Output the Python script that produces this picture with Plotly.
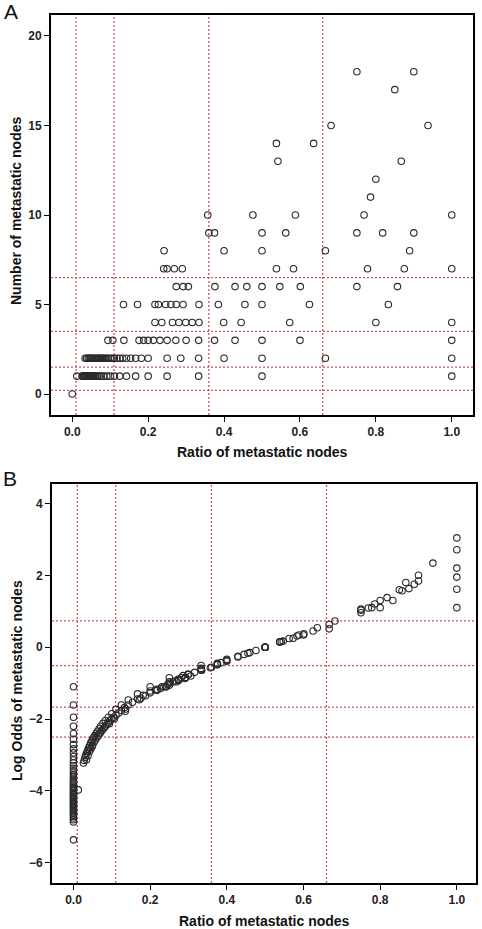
import plotly.graph_objects as go

W, H = 482, 929

# ---------------- Panel A data: ratio vs number of metastatic nodes ----------------
a_ratio_n0 = [0.0]
a_ratio_n1 = [0.012, 0.026, 0.028, 0.030, 0.032, 0.034, 0.036, 0.038, 0.040, 0.042, 0.045,
              0.048, 0.050, 0.053, 0.056, 0.059, 0.0625, 0.067, 0.071, 0.077, 0.083, 0.091,
              0.100, 0.111, 0.125, 0.143, 0.167, 0.200, 0.250, 0.333, 0.500, 1.000]
a_ratio_n2 = [0.034, 0.038, 0.042, 0.045, 0.048, 0.050, 0.054, 0.057, 0.061, 0.065, 0.069,
              0.071, 0.074, 0.077, 0.080, 0.083, 0.087, 0.091, 0.095, 0.100, 0.105, 0.111,
              0.118, 0.125, 0.133, 0.143, 0.154, 0.167, 0.182, 0.200, 0.250, 0.286, 0.333,
              0.400, 0.500, 0.667, 1.000]
a_ratio_n3 = [0.094, 0.107, 0.136, 0.176, 0.188, 0.200, 0.214, 0.231, 0.250, 0.273, 0.300,
              0.333, 0.375, 0.429, 0.500, 0.600, 1.000]
a_ratio_n4 = [0.218, 0.236, 0.264, 0.281, 0.299, 0.316, 0.334, 0.399, 0.445, 0.573, 0.800, 1.000]
a_ratio_n5 = [0.135, 0.172, 0.218, 0.227, 0.246, 0.260, 0.274, 0.292, 0.334, 0.385, 0.455,
              0.500, 0.625, 0.833]
a_ratio_n6 = [0.274, 0.292, 0.306, 0.376, 0.429, 0.460, 0.500, 0.547, 0.601, 0.750, 0.857]
a_ratio_n7 = [0.241, 0.250, 0.269, 0.290, 0.538, 0.583, 0.778, 0.875, 1.000]
a_ratio_n8 = [0.242, 0.400, 0.500, 0.667, 0.889]
a_ratio_n9 = [0.360, 0.375, 0.500, 0.5625, 0.750, 0.818, 0.900]
a_ratio_n10 = [0.357, 0.476, 0.588, 0.769, 1.000]
a_ratio_n11 = [0.786]
a_ratio_n12 = [0.800]
a_ratio_n13 = [0.542, 0.867]
a_ratio_n14 = [0.538, 0.636]
a_ratio_n15 = [0.682, 0.9375]
a_ratio_n17 = [0.850]
a_ratio_n18 = [0.750, 0.900]

a_rows = [(0, a_ratio_n0), (1, a_ratio_n1), (2, a_ratio_n2), (3, a_ratio_n3), (4, a_ratio_n4),
          (5, a_ratio_n5), (6, a_ratio_n6), (7, a_ratio_n7), (8, a_ratio_n8), (9, a_ratio_n9),
          (10, a_ratio_n10), (11, a_ratio_n11), (12, a_ratio_n12), (13, a_ratio_n13),
          (14, a_ratio_n14), (15, a_ratio_n15), (17, a_ratio_n17), (18, a_ratio_n18)]
a_ratio, a_nodes = [], []
for n, rs in a_rows:
    a_ratio += rs
    a_nodes += [n] * len(rs)

a_vlines = [0.01, 0.11, 0.36, 0.66]
a_hlines = [0.2, 1.5, 3.5, 6.5]
a_yticks = [0, 5, 10, 15, 20]

# ---------------- Panel B data: ratio vs log odds ----------------
b_zero_logodds = [-1.10, -1.61, -1.95, -2.20, -2.40, -2.56, -2.71, -2.83, -2.94, -3.04, -3.14,
                  -3.22, -3.30, -3.37, -3.44, -3.50, -3.56, -3.61, -3.67, -3.72, -3.77, -3.81,
                  -3.86, -3.90, -3.93, -3.97, -4.00, -4.05, -4.08, -4.11, -4.15, -4.19, -4.22,
                  -4.26, -4.30, -4.33, -4.36, -4.39, -4.43, -4.47, -4.51, -4.55, -4.58, -4.62,
                  -4.66, -4.70, -4.75, -4.80, -4.86, -5.36]
b_curve_points = [
    (0.0125, -3.97), (0.026, -3.22), (0.028, -3.15), (0.030, -3.07), (0.032, -3.01), (0.034, -2.95),
    (0.036, -2.90), (0.038, -2.84), (0.040, -2.79), (0.042, -2.74), (0.045, -2.66), (0.048, -2.61),
    (0.050, -2.56), (0.053, -2.51), (0.056, -2.46), (0.059, -2.40), (0.0625, -2.34), (0.067, -2.27),
    (0.071, -2.20), (0.077, -2.12), (0.083, -2.04), (0.091, -1.95), (0.100, -1.85), (0.111, -1.73),
    (0.125, -1.61), (0.143, -1.47), (0.167, -1.30), (0.200, -1.10), (0.250, -0.85), (0.333, -0.51),
    (0.500, 0.00), (1.000, 1.10),
    (0.034, -3.13), (0.038, -3.02), (0.042, -2.90), (0.045, -2.83), (0.048, -2.78), (0.050, -2.73),
    (0.054, -2.64), (0.057, -2.58), (0.061, -2.52), (0.065, -2.46), (0.069, -2.40), (0.071, -2.36),
    (0.074, -2.32), (0.077, -2.28), (0.080, -2.24), (0.083, -2.20), (0.087, -2.15), (0.091, -2.10),
    (0.095, -2.05), (0.100, -2.00), (0.105, -1.95), (0.111, -1.89), (0.118, -1.83), (0.125, -1.76),
    (0.133, -1.68), (0.143, -1.61), (0.154, -1.53), (0.167, -1.44), (0.182, -1.34), (0.200, -1.22),
    (0.250, -0.96), (0.286, -0.79), (0.333, -0.59), (0.400, -0.34), (0.500, 0.00), (0.667, 0.51),
    (1.000, 1.61),
    (0.094, -2.13), (0.107, -1.99), (0.136, -1.72), (0.176, -1.42), (0.188, -1.35), (0.200, -1.27),
    (0.214, -1.19), (0.231, -1.10), (0.250, -1.00), (0.273, -0.89), (0.300, -0.76), (0.333, -0.62),
    (0.375, -0.45), (0.429, -0.25), (0.500, 0.00), (0.600, 0.34), (1.000, 1.95),
    (0.218, -1.17), (0.236, -1.10), (0.264, -0.94), (0.281, -0.85), (0.299, -0.75), (0.316, -0.70),
    (0.334, -0.64), (0.399, -0.37), (0.445, -0.20), (0.573, 0.25), (0.800, 1.10), (1.000, 2.20),
    (0.135, -1.78), (0.172, -1.46), (0.218, -1.20), (0.227, -1.15), (0.246, -1.03), (0.260, -0.97),
    (0.274, -0.91), (0.292, -0.84), (0.334, -0.64), (0.385, -0.43), (0.455, -0.17), (0.500, 0.00),
    (0.625, 0.45), (0.833, 1.30),
    (0.274, -0.93), (0.292, -0.86), (0.306, -0.80), (0.376, -0.48), (0.429, -0.27), (0.460, -0.15),
    (0.500, 0.00), (0.547, 0.17), (0.601, 0.37), (0.750, 0.96), (0.857, 1.57),
    (0.241, -1.10), (0.250, -1.06), (0.269, -0.96), (0.290, -0.87), (0.538, 0.14), (0.583, 0.31),
    (0.778, 1.10), (0.875, 1.63), (1.000, 2.71),
    (0.242, -1.10), (0.400, -0.39), (0.500, 0.00), (0.667, 0.63), (0.889, 1.75),
    (0.360, -0.56), (0.375, -0.49), (0.500, 0.00), (0.5625, 0.24), (0.750, 1.03), (0.818, 1.38),
    (0.900, 1.84),
    (0.357, -0.57), (0.476, -0.09), (0.588, 0.34), (0.769, 1.09), (1.000, 3.04),
    (0.786, 1.20), (0.800, 1.30), (0.542, 0.16), (0.867, 1.80), (0.538, 0.15), (0.636, 0.54),
    (0.682, 0.73), (0.9375, 2.34), (0.850, 1.60), (0.750, 1.06), (0.900, 2.00),
]
b_ratio = [0.0] * len(b_zero_logodds) + [p[0] for p in b_curve_points]
b_logodds = b_zero_logodds + [p[1] for p in b_curve_points]

b_vlines = [0.01, 0.11, 0.36, 0.66]
b_hlines = [0.73, -0.51, -1.67, -2.50]
b_yticks = [-6, -4, -2, 0, 2, 4]

x_ticks = [0.0, 0.2, 0.4, 0.6, 0.8, 1.0]
x_ticklabels = ["0.0", "0.2", "0.4", "0.6", "0.8", "1.0"]

# ---------------- Figure ----------------
def px_x(p):
    return p / W

def px_y(p):
    return 1 - p / H

fig = go.Figure()
marker = dict(symbol="circle-open", size=6.5, color="#2a2a2a", line=dict(width=1.1, color="#2a2a2a"))
fig.add_trace(go.Scatter(x=a_ratio, y=a_nodes, mode="markers", marker=marker,
                         xaxis="x", yaxis="y", showlegend=False))
fig.add_trace(go.Scatter(x=b_ratio, y=b_logodds, mode="markers", marker=marker,
                         xaxis="x2", yaxis="y2", showlegend=False))

tickfont = dict(family="Liberation Sans Narrow, Arial Narrow, Liberation Sans", size=12,
                color="#222", weight="bold")
axis_common = dict(showline=True, linewidth=2, linecolor="black", mirror=True,
                   ticks="outside", ticklen=5, tickwidth=1, tickcolor="black",
                   showgrid=False, zeroline=False, tickfont=tickfont)

fig.update_layout(
    width=W, height=H, margin=dict(l=0, r=0, t=0, b=0),
    paper_bgcolor="white", plot_bgcolor="white",
    xaxis=dict(domain=[px_x(51), px_x(473)], range=[-0.056, 1.056], anchor="y",
               tickvals=x_ticks, ticktext=x_ticklabels, **axis_common),
    yaxis=dict(domain=[px_y(415), px_y(15)], range=[-1.17, 21.17], anchor="x",
               tickvals=a_yticks, **axis_common),
    xaxis2=dict(domain=[px_x(52), px_x(476)], range=[-0.056, 1.05], anchor="y2",
                tickvals=x_ticks, ticktext=x_ticklabels, **axis_common),
    yaxis2=dict(domain=[px_y(883), px_y(484)], range=[-6.56, 4.54], anchor="x2",
                tickvals=b_yticks, **axis_common),
)

line_style = dict(color="#c8565a", width=1.3, dash="2px,2px")
shapes = []
for v in a_vlines:
    shapes.append(dict(type="line", xref="x", yref="y domain", x0=v, x1=v, y0=0, y1=1,
                       line=line_style, layer="below"))
for h in a_hlines:
    shapes.append(dict(type="line", xref="x domain", yref="y", x0=0, x1=1, y0=h, y1=h,
                       line=line_style, layer="below"))
for v in b_vlines:
    shapes.append(dict(type="line", xref="x2", yref="y2 domain", x0=v, x1=v, y0=0, y1=1,
                       line=line_style, layer="below"))
for h in b_hlines:
    shapes.append(dict(type="line", xref="x2 domain", yref="y2", x0=0, x1=1, y0=h, y1=h,
                       line=line_style, layer="below"))
fig.update_layout(shapes=shapes)

title_font = dict(family="Liberation Sans, Arial", size=14, color="#111", weight="bold")
panel_font = dict(family="Liberation Sans, Arial", size=21, color="#111")
annotations = [
    dict(text="Ratio of metastatic nodes", x=px_x(262), y=px_y(452), xref="paper", yref="paper",
         showarrow=False, font=title_font, xanchor="center", yanchor="middle"),
    dict(text="Ratio of metastatic nodes", x=px_x(264), y=px_y(921), xref="paper", yref="paper",
         showarrow=False, font=title_font, xanchor="center", yanchor="middle"),
    dict(text="Number of metastatic nodes", x=px_x(16), y=px_y(211), xref="paper", yref="paper",
         showarrow=False, font=title_font, textangle=-90, xanchor="center", yanchor="middle"),
    dict(text="Log Odds of metastatic nodes", x=px_x(17), y=px_y(681), xref="paper", yref="paper",
         showarrow=False, font=title_font, textangle=-90, xanchor="center", yanchor="middle"),
    dict(text="A", x=px_x(11), y=px_y(12), xref="paper", yref="paper",
         showarrow=False, font=panel_font, xanchor="center", yanchor="middle"),
    dict(text="B", x=px_x(10), y=px_y(478), xref="paper", yref="paper",
         showarrow=False, font=panel_font, xanchor="center", yanchor="middle"),
]
fig.update_layout(annotations=annotations)

fig.write_html("out.html", config={"displayModeBar": False},
               post_script="document.body.style.margin='0';document.body.style.overflow='hidden';")
